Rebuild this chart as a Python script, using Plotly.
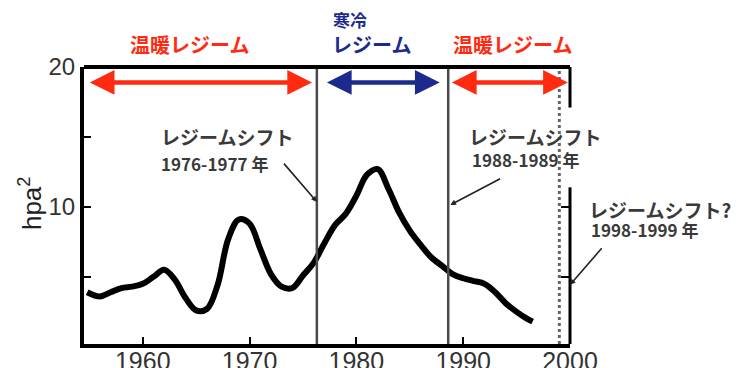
import plotly.graph_objects as go

# ---- data ----
years = [1954.8, 1956, 1957, 1958, 1959, 1960, 1961, 1962, 1963, 1964,
         1965, 1966, 1967, 1968, 1969, 1970, 1971, 1972, 1973, 1974,
         1975, 1976, 1977, 1978, 1979, 1980, 1981, 1982, 1983, 1984,
         1985, 1986, 1987, 1988, 1989, 1990, 1991, 1992, 1993, 1994,
         1995, 1996, 1996.5]
values = [3.9, 3.6, 3.9, 4.2, 4.3, 4.5, 5.0, 5.5, 4.8, 3.5,
          2.6, 2.7, 4.4, 7.7, 9.1, 8.8, 7.0, 5.2, 4.3, 4.2,
          5.1, 6.0, 7.4, 8.7, 9.5, 10.8, 12.3, 12.7, 11.3, 9.6,
          8.3, 7.3, 6.4, 5.8, 5.2, 4.9, 4.7, 4.5, 3.9, 3.1,
          2.5, 2.0, 1.8]

x_ticks = [1960, 1970, 1980, 1990, 2000]
y_ticks = [5, 10, 15, 20]
y_ticktext = ["", "10", "", "20"]

shift_years = [1976.3, 1988.6]
possible_shift_year = 1999.0

regime_names = ["温暖レジーム", "レジーム", "温暖レジーム"]
regime_sub = "寒冷"
regime_spans = [(1954.9, 1975.85), (1977.1, 1987.8), (1988.8, 1999.8)]
regime_colors = ["#ff2a10", "#1c2a8e", "#ff2a10"]

shift_labels = ["レジームシフト", "レジームシフト", "レジームシフト?"]
shift_periods = ["1976-1977 年", "1988-1989 年", "1998-1999 年"]

FONT_JP = "Noto Sans CJK JP"
FONT_NUM = "Liberation Sans Narrow, Liberation Sans, Arial"

fig = go.Figure()
fig.add_trace(go.Scatter(x=years, y=values, mode="lines",
                         line=dict(color="black", width=6, shape="spline", smoothing=1.0),
                         hoverinfo="skip", showlegend=False))
fig.add_trace(go.Scatter(x=[], y=[], yaxis="y2", showlegend=False))

shapes = []
for yr in shift_years:
    shapes.append(dict(type="line", xref="x", yref="paper", x0=yr, x1=yr, y0=0, y1=1,
                       line=dict(color="#4a4a4a", width=2.5)))
shapes.append(dict(type="line", xref="x", yref="paper", x0=possible_shift_year, x1=possible_shift_year,
                   y0=0, y1=1, line=dict(color="#666666", width=3, dash="dot")))
# top border
shapes.append(dict(type="line", xref="paper", yref="paper", x0=0, x1=1, y0=1, y1=1,
                   line=dict(color="black", width=4)))
# right border (broken behind the label)
shapes.append(dict(type="line", xref="paper", yref="y", x0=1, x1=1, y0=20, y1=17.1,
                   line=dict(color="black", width=3)))
shapes.append(dict(type="line", xref="paper", yref="y", x0=1, x1=1, y0=11.4, y1=0.2,
                   line=dict(color="black", width=3)))

annotations = []
# regime arrows
for (a, b), col in zip(regime_spans, regime_colors):
    annotations.append(dict(x=b, y=18.9, ax=a, ay=18.9, xref="x", yref="y", axref="x", ayref="y",
                            text="", showarrow=True, arrowhead=2, startarrowhead=2,
                            arrowside="end+start", arrowwidth=4.5, arrowsize=1.1, startarrowsize=1.1,
                            arrowcolor=col))


def lab_font(c, s):
    return dict(family=FONT_JP, size=s, color=c, weight="bold")


# regime labels (above the plot, paper coords)
annotations.append(dict(x=1964.4, y=1.083, xref="x", yref="paper", yanchor="middle",
                        text=regime_names[0], showarrow=False,
                        font=lab_font(regime_colors[0], 20)))
annotations.append(dict(x=1977.55, y=1.083, xref="x", yref="paper", xanchor="left", yanchor="middle",
                        text=regime_names[1], showarrow=False, font=lab_font(regime_colors[1], 20)))
annotations.append(dict(x=1977.6, y=1.17, xref="x", yref="paper", xanchor="left", yanchor="middle",
                        text=regime_sub, showarrow=False, font=lab_font(regime_colors[1], 17)))
annotations.append(dict(x=1994.6, y=1.083, xref="x", yref="paper", yanchor="middle",
                        text=regime_names[2], showarrow=False,
                        font=lab_font(regime_colors[2], 20)))

# regime-shift labels
txt_font = dict(family=FONT_JP, size=19, color="#3a3a3a", weight="bold")
num_font = dict(family=FONT_JP, size=17, color="#3a3a3a", weight="bold")
annotations += [
    dict(x=1961.5, y=15.0, xref="x", yref="y", xanchor="left", text=shift_labels[0],
         showarrow=False, font=txt_font),
    dict(x=1961.5, y=13.1, xref="x", yref="y", xanchor="left", text=shift_periods[0],
         showarrow=False, font=num_font),
    dict(x=1990.4, y=15.0, xref="x", yref="y", xanchor="left", text=shift_labels[1],
         showarrow=False, font=txt_font),
    dict(x=1990.6, y=13.36, xref="x", yref="y", xanchor="left", text=shift_periods[1],
         showarrow=False, font=num_font),
    dict(x=1.035, y=9.79, xref="paper", yref="y", xanchor="left", text=shift_labels[2],
         showarrow=False, font=txt_font),
    dict(x=1.039, y=8.36, xref="paper", yref="y", xanchor="left", text=shift_periods[2],
         showarrow=False, font=num_font),
]
# pointer lines
annotations += [
    dict(x=1976.3, y=10.36, ax=1973.1, ay=13.2, xref="x", yref="y", axref="x", ayref="y",
         text="", showarrow=True, arrowhead=2, arrowsize=0.7, arrowwidth=1.6, arrowcolor="#222"),
    dict(x=1988.8, y=10.14, ax=1993.6, ay=12.07, xref="x", yref="y", axref="x", ayref="y",
         text="", showarrow=True, arrowhead=2, arrowsize=0.7, arrowwidth=1.6, arrowcolor="#222"),
    dict(x=2000, y=4.43, ax=33, ay=-38, xref="x", yref="y",
         text="", showarrow=True, arrowhead=2, arrowsize=0.7, arrowwidth=1.6, arrowcolor="#222"),
]
# y-axis title
annotations.append(dict(x=-0.111, y=0.509, xref="paper", yref="paper", textangle=-90,
                        xanchor="center", yanchor="middle",
                        text="hpa<sup>2</sup>", showarrow=False,
                        font=dict(family="Liberation Sans, Arial", size=26, color="#222222")))

# page body has an 8px default margin: shrink the figure so the plot lands where the reference has it
fig.update_layout(
    width=735, height=360,
    margin=dict(l=76, r=173, t=59, b=24, autoexpand=False),
    paper_bgcolor="white", plot_bgcolor="white",
    showlegend=False,
    shapes=shapes, annotations=annotations,
    xaxis=dict(range=[1954.5, 2000], tickvals=x_ticks, ticks="inside", ticklen=7, tickwidth=2,
               tickcolor="black", showline=True, linewidth=4, linecolor="black",
               showgrid=False, zeroline=False, automargin=False, ticklabelstandoff=-8,
               tickfont=dict(family=FONT_NUM, size=25, color="#333333")),
    yaxis=dict(range=[0.2, 20], tickvals=y_ticks, ticktext=y_ticktext, ticks="inside", ticklen=7,
               tickwidth=2, tickcolor="black", showline=True, linewidth=4, linecolor="black",
               showgrid=False, zeroline=False, automargin=False,
               tickfont=dict(family=FONT_NUM, size=24, color="#333333")),
    yaxis2=dict(range=[0.2, 20], overlaying="y", side="right", tickvals=[5, 10], ticks="inside",
                ticklen=9, tickwidth=2, tickcolor="black", showticklabels=False, automargin=False,
                showline=False, showgrid=False, zeroline=False),
)

fig.write_html("out.html")
